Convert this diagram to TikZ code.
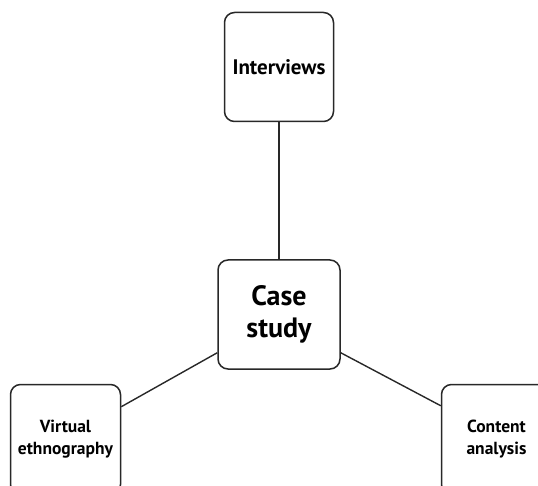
\documentclass[tikz,border=0pt]{standalone}
\usepackage{fontspec}
\setmainfont{PT Sans}
\usetikzlibrary{positioning}
\definecolor{boxline}{RGB}{40,40,40}
\tikzset{
    methodbox/.style={rectangle, rounded corners=10pt, draw=boxline, line width=1.5pt, fill=white, minimum width=110pt, minimum height=110pt, align=center, font=\bfseries\fontsize{17.5}{22}\selectfont},
    link/.style={boxline, line width=1.4pt},
}
\begin{document}
\begin{tikzpicture}[x=1pt, y=-1pt]
\useasboundingbox (0,0) rectangle (538,486);

\node[methodbox, minimum width=122pt, minimum height=109pt, font=\bfseries\fontsize{28}{32}\selectfont] (case) at (279,314.5) {Case\\study};
\node[methodbox, minimum width=109pt, minimum height=109pt, font=\bfseries\fontsize{21}{25}\selectfont, above=137pt of case] (interviews) {Interviews};
\node[methodbox, below left=14pt and 96pt of case] (virtual) {Virtual\\ethnography};
\node[methodbox, below right=14pt and 100pt of case] (content) {Content\\analysis};

\draw[link] (interviews.south) -- (case.north);
\draw[link] ([yshift=17pt]case.south west) -- ([yshift=-23pt]virtual.north east);
\draw[link] ([yshift=17pt]case.south east) -- ([yshift=-22pt]content.north west);

\end{tikzpicture}
\end{document}
